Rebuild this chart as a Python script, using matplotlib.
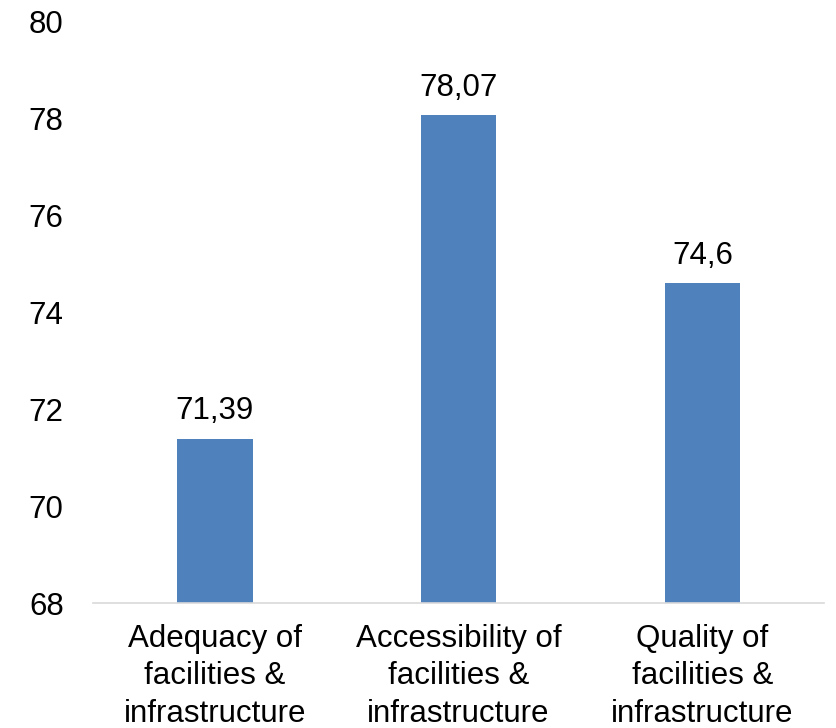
import matplotlib
matplotlib.use("Agg")
import matplotlib.pyplot as plt

categories = ["Adequacy of\nfacilities &\ninfrastructure",
              "Accessibility of\nfacilities &\ninfrastructure",
              "Quality of\nfacilities &\ninfrastructure"]
values = [71.39, 78.07, 74.6]
value_labels = ["71,39", "78,07", "74,6"]
y_ticks = [68, 70, 72, 74, 76, 78, 80]

plt.rcParams['font.family'] = ['Liberation Sans', 'DejaVu Sans']
fs = 22.5

fig = plt.figure(figsize=(8.36, 7.28), dpi=100)
ax = fig.add_axes([0.111, 0.1717, 0.875, 0.7983])

x = range(len(categories))
bars = ax.bar(x, values, width=0.31, color='#4f81bd', bottom=0)
for b, lab in zip(bars, value_labels):
    ax.annotate(lab, (b.get_x() + b.get_width() / 2, b.get_height()),
                xytext=(0, 9), textcoords='offset points',
                ha='center', va='bottom', fontsize=fs)

ax.set_ylim(68, 80)
ax.set_xlim(-0.5, 2.5)
ax.set_yticks(y_ticks)
ax.set_xticks(list(x))
ax.set_xticklabels(categories, fontsize=fs, linespacing=1.32)
ax.tick_params(axis='y', labelsize=fs, length=0, pad=21)
ax.tick_params(axis='x', length=0, pad=15)

for s in ['top', 'right', 'left']:
    ax.spines[s].set_visible(False)
ax.spines['bottom'].set_color('#d9d9d9')
ax.spines['bottom'].set_linewidth(1.2)

fig.savefig("out.png", dpi=100)
